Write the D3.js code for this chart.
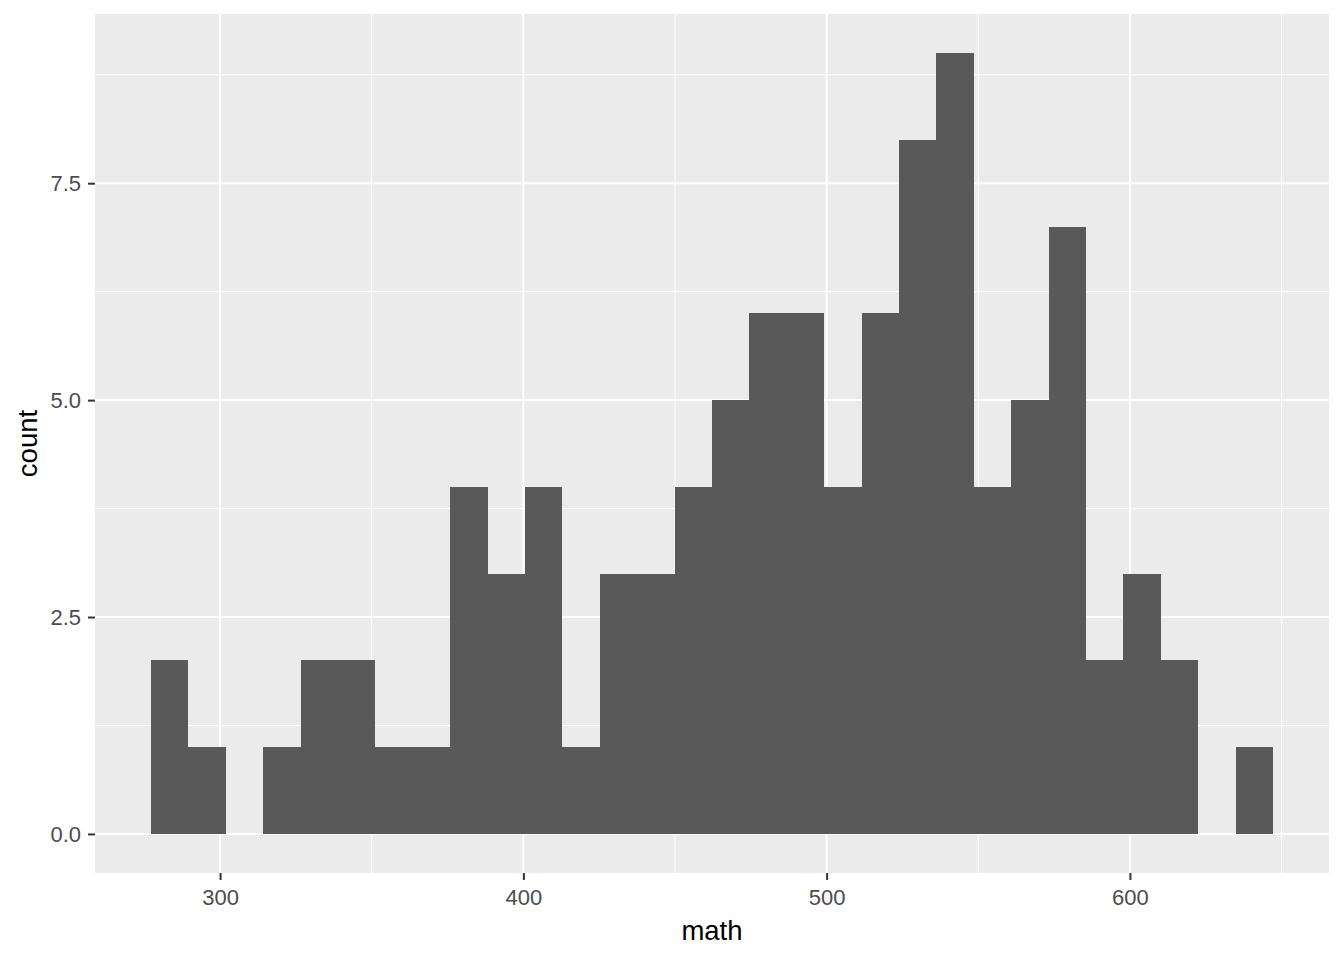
<!DOCTYPE html>
<html>
<head>
<meta charset="utf-8">
<script src="https://cdn.jsdelivr.net/npm/d3@7"></script>
<style>
  body { margin: 0; background: #fff; }
  svg { font-family: Arial, "Liberation Sans", sans-serif; }
</style>
</head>
<body>
<div id="chart"></div>
<script>
// histogram of math scores, 30 bins
var binStart = 277.25
var binWidth = 12.33
var counts = [2, 1, 0, 1, 2, 2, 1, 1, 4, 3, 4, 1, 3, 3, 4, 5, 6, 6, 4, 6, 8, 9, 4, 5, 7, 2, 3, 2, 0, 1]
var xTicks = [300, 400, 500, 600]
var xMinor = [250, 350, 450, 550, 650]
var yTicks = [0, 2.5, 5, 7.5]
var yMinor = [1.25, 3.75, 6.25, 8.75]

var width = 1344, height = 960
var panel = { left: 95, right: 1329, top: 14, bottom: 873 }

var bins = counts.map(function(c, i) {
    return { x0: binStart + i * binWidth, x1: binStart + (i + 1) * binWidth, count: c }
})

var lo = binStart, hi = binStart + counts.length * binWidth
var padX = (hi - lo) * 0.05
var ymax = d3.max(counts)

var x = d3.scaleLinear()
    .domain([lo - padX, hi + padX])
    .range([panel.left, panel.right])
var y = d3.scaleLinear()
    .domain([-ymax * 0.05, ymax * 1.05])
    .range([panel.bottom, panel.top])

var svg = d3.select("#chart").append("svg")
    .attr("width", width)
    .attr("height", height)

svg.append("rect")
    .attr("x", panel.left)
    .attr("y", panel.top)
    .attr("width", panel.right - panel.left)
    .attr("height", panel.bottom - panel.top)
    .attr("fill", "#EBEBEB")

var grid = svg.append("g")

grid.selectAll("line.ymin").data(yMinor).enter().append("line")
    .attr("x1", panel.left).attr("x2", panel.right)
    .attr("y1", function(d) { return y(d) }).attr("y2", function(d) { return y(d) })
    .attr("stroke", "#fff").attr("stroke-width", 1)
grid.selectAll("line.xmin").data(xMinor).enter().append("line")
    .attr("y1", panel.top).attr("y2", panel.bottom)
    .attr("x1", function(d) { return x(d) }).attr("x2", function(d) { return x(d) })
    .attr("stroke", "#fff").attr("stroke-width", 1)
grid.selectAll("line.ymaj").data(yTicks).enter().append("line")
    .attr("x1", panel.left).attr("x2", panel.right)
    .attr("y1", function(d) { return y(d) }).attr("y2", function(d) { return y(d) })
    .attr("stroke", "#fff").attr("stroke-width", 2)
grid.selectAll("line.xmaj").data(xTicks).enter().append("line")
    .attr("y1", panel.top).attr("y2", panel.bottom)
    .attr("x1", function(d) { return x(d) }).attr("x2", function(d) { return x(d) })
    .attr("stroke", "#fff").attr("stroke-width", 2)

svg.append("g").selectAll("rect")
    .data(bins.filter(function(d) { return d.count > 0 }))
    .enter().append("rect")
    .attr("x", function(d) { return x(d.x0) })
    .attr("width", function(d) { return x(d.x1) - x(d.x0) })
    .attr("y", function(d) { return y(d.count) })
    .attr("height", function(d) { return y(0) - y(d.count) })
    .attr("fill", "#595959")
    .attr("shape-rendering", "crispEdges")

// axes
var xAxis = svg.append("g")
    .attr("transform", "translate(0," + panel.bottom + ")")
    .call(d3.axisBottom(x).tickValues(xTicks).tickSize(7).tickPadding(9))
var yAxis = svg.append("g")
    .attr("transform", "translate(" + panel.left + ",0)")
    .call(d3.axisLeft(y).tickValues(yTicks).tickSize(7).tickPadding(7).tickFormat(d3.format(".1f")))

svg.selectAll(".domain").remove()
svg.selectAll(".tick line").attr("stroke", "#333").attr("stroke-width", 2)
svg.selectAll(".tick text")
    .attr("fill", "#4D4D4D")
    .style("font-size", "22px")
    .style("font-family", "Arial, 'Liberation Sans', sans-serif")

svg.append("text")
    .attr("x", (panel.left + panel.right) / 2)
    .attr("y", 940)
    .attr("text-anchor", "middle")
    .style("font-size", "27.5px")
    .text("math")

svg.append("text")
    .attr("transform", "translate(37," + (panel.top + panel.bottom) / 2 + ") rotate(-90)")
    .attr("text-anchor", "middle")
    .style("font-size", "27.5px")
    .text("count")
</script>
</body>
</html>
